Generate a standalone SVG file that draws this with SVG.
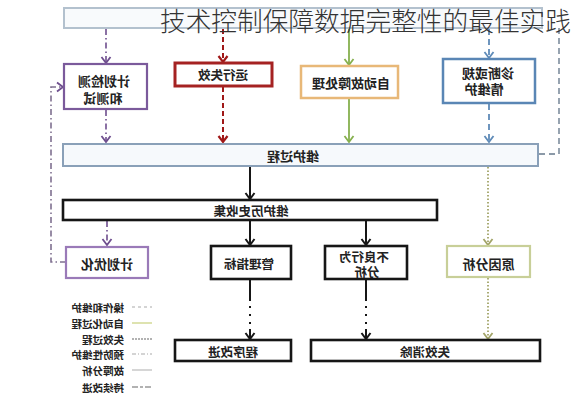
<svg xmlns="http://www.w3.org/2000/svg" width="573" height="400" viewBox="0 0 573 400">
<style>
.lbl{font-family:"Noto Sans CJK SC","Noto Sans",sans-serif;font-weight:700;fill:#222;text-anchor:middle;dominant-baseline:central}
.leg{font-family:"Noto Sans CJK SC","Noto Sans",sans-serif;font-weight:700;fill:#222;font-size:10.5px;dominant-baseline:central}
.title{font-family:"Noto Sans CJK SC","Noto Sans",sans-serif;font-weight:300;fill:#333;font-size:25.7px}
.bk{fill:#fff;stroke:#161616;stroke-width:2.6}
.c{fill:none}
</style>
<defs>
<marker id="aP" markerUnits="userSpaceOnUse" markerWidth="12" markerHeight="12" viewBox="-8 -6 10 12" refX="0" refY="0" orient="auto"><path d="M-6,-4.5 L0,0 L-6,4.5" fill="none" stroke="#6e4e8e" stroke-width="1.8"/></marker>
<marker id="aR" markerUnits="userSpaceOnUse" markerWidth="12" markerHeight="12" viewBox="-8 -6 10 12" refX="0" refY="0" orient="auto"><path d="M-6,-4.5 L0,0 L-6,4.5" fill="none" stroke="#a01818" stroke-width="2.2"/></marker>
<marker id="aG" markerUnits="userSpaceOnUse" markerWidth="12" markerHeight="12" viewBox="-8 -6 10 12" refX="0" refY="0" orient="auto"><path d="M-6,-4.5 L0,0 L-6,4.5" fill="none" stroke="#86b04e" stroke-width="1.8"/></marker>
<marker id="aB" markerUnits="userSpaceOnUse" markerWidth="12" markerHeight="12" viewBox="-8 -6 10 12" refX="0" refY="0" orient="auto"><path d="M-6,-4.5 L0,0 L-6,4.5" fill="none" stroke="#5f8bb8" stroke-width="1.8"/></marker>
<marker id="aK" markerUnits="userSpaceOnUse" markerWidth="12" markerHeight="12" viewBox="-8 -6 10 12" refX="0" refY="0" orient="auto"><path d="M-6,-4.5 L0,0 L-6,4.5" fill="none" stroke="#161616" stroke-width="2"/></marker>
<marker id="aO" markerUnits="userSpaceOnUse" markerWidth="12" markerHeight="12" viewBox="-8 -6 10 12" refX="0" refY="0" orient="auto"><path d="M-6,-4.5 L0,0 L-6,4.5" fill="none" stroke="#a2a468" stroke-width="1.8"/></marker>
</defs>
<rect width="573" height="400" fill="#fff"/>

<g id="connectors">
<path class="c" d="M106,29 V63" stroke="#6e4e8e" stroke-width="1.6" stroke-dasharray="6 3 1.5 3" marker-end="url(#aP)"/>
<path class="c" d="M106,110 V142" stroke="#6e4e8e" stroke-width="1.6" stroke-dasharray="6 3 1.5 3" marker-end="url(#aP)"/>
<path class="c" d="M223,29 V62" stroke="#a01818" stroke-width="2" stroke-dasharray="5 3" marker-end="url(#aR)"/>
<path class="c" d="M223,87 V142" stroke="#a01818" stroke-width="2" stroke-dasharray="5 3" marker-end="url(#aR)"/>
<path class="c" d="M349,29 V65" stroke="#86b04e" stroke-width="1.8" marker-end="url(#aG)"/>
<path class="c" d="M349,99 V142" stroke="#86b04e" stroke-width="1.8" marker-end="url(#aG)"/>
<path class="c" d="M489,29 V58" stroke="#5f8bb8" stroke-width="1.8" stroke-dasharray="6 4" marker-end="url(#aB)"/>
<path class="c" d="M489,104 V142" stroke="#5f8bb8" stroke-width="1.8" stroke-dasharray="6 4" marker-end="url(#aB)"/>
<path class="c" d="M539,154 H559 V28" stroke="#8c9aa8" stroke-width="1.8" stroke-dasharray="6 4"/>
<path class="c" d="M66,262 H51 V87 H63" stroke="#7f7090" stroke-width="1.6" stroke-dasharray="6 3 1.5 3" marker-end="url(#aP)"/>
<path class="c" d="M250,167 V199" stroke="#161616" stroke-width="2" marker-end="url(#aK)"/>
<path class="c" d="M107,221 V245" stroke="#6e4e8e" stroke-width="1.6" stroke-dasharray="6 3 1.5 3" marker-end="url(#aP)"/>
<path class="c" d="M250,221 V245" stroke="#161616" stroke-width="2" marker-end="url(#aK)"/>
<path class="c" d="M366,221 V245" stroke="#161616" stroke-width="2" marker-end="url(#aK)"/>
<path class="c" d="M488,167 V245" stroke="#a2a468" stroke-width="1.8" stroke-dasharray="1.5 2" marker-end="url(#aO)"/>
<path class="c" d="M250,280 V339" stroke="#161616" stroke-width="2" stroke-dasharray="21 5 2 6 2 6 2 5 40" marker-end="url(#aK)"/>
<path class="c" d="M366,280 V339" stroke="#161616" stroke-width="2" stroke-dasharray="21 5 2 6 2 6 2 5 40" marker-end="url(#aK)"/>
<path class="c" d="M488,278 V339" stroke="#a2a468" stroke-width="1.8" stroke-dasharray="1.5 2" marker-end="url(#aO)"/>
</g>

<g id="top-bar"><rect x="64" y="8" width="478" height="20" fill="#f8fafc" stroke="#b3c1ce" stroke-width="2"/></g>
<g id="title"><text class="title" x="160" y="31">技术控制保障数据完整性的最佳实践</text></g>

<g id="n-plan-test">
<rect x="64" y="64" width="83" height="45" fill="#fff" stroke="#7b5a9b" stroke-width="2.2"/>
<text class="lbl" font-size="13" x="104" y="80" transform="matrix(-1 0 0 1 208 0)">计划检测</text>
<text class="lbl" font-size="13" x="103" y="97" transform="matrix(-1 0 0 1 206 0)">和测试</text>
</g>
<g id="n-run-fail">
<rect x="175" y="63" width="97" height="23" fill="#fff" stroke="#a52222" stroke-width="3"/>
<text class="lbl" font-size="12.5" x="223" y="74.5" transform="matrix(-1 0 0 1 446 0)">运行失效</text>
</g>
<g id="n-auto">
<rect x="301" y="66" width="97" height="32" fill="#fff" stroke="#e8b878" stroke-width="2.5"/>
<text class="lbl" font-size="13" x="351" y="82" transform="matrix(-1 0 0 1 702 0)">自动故障处理</text>
</g>
<g id="n-diag">
<rect x="443" y="59" width="92" height="44" fill="#fff" stroke="#5a86b5" stroke-width="2.5"/>
<text class="lbl" font-size="13" x="488" y="72" transform="matrix(-1 0 0 1 976 0)">诊断或规</text>
<text class="lbl" font-size="13" x="484" y="88" transform="matrix(-1 0 0 1 968 0)">情维护</text>
</g>
<g id="n-process">
<rect x="63" y="144" width="475" height="22" fill="#f6f9fc" stroke="#8aa0b8" stroke-width="2"/>
<text class="lbl" font-size="13" x="293" y="155" transform="matrix(-1 0 0 1 586 0)">维护过程</text>
</g>
<g id="n-history">
<rect x="63" y="200" width="374" height="20" class="bk"/>
<text class="lbl" font-size="12.5" x="251" y="210" transform="matrix(-1 0 0 1 502 0)">维护历史收集</text>
</g>
<g id="n-plan-opt">
<rect x="66" y="247" width="82" height="31" fill="#fff" stroke="#9a7ab8" stroke-width="2.2"/>
<text class="lbl" font-size="13" x="107" y="263" transform="matrix(-1 0 0 1 214 0)">计划优化</text>
</g>
<g id="n-metrics">
<rect x="211" y="246" width="80" height="33" class="bk"/>
<text class="lbl" font-size="12.5" x="249" y="263" transform="matrix(-1 0 0 1 498 0)">管理指标</text>
</g>
<g id="n-bad">
<rect x="325" y="246" width="82" height="33" class="bk"/>
<text class="lbl" font-size="12.5" x="364" y="256" transform="matrix(-1 0 0 1 728 0)">不良行为</text>
<text class="lbl" font-size="12.5" x="367" y="271" transform="matrix(-1 0 0 1 734 0)">分析</text>
</g>
<g id="n-cause">
<rect x="447" y="246" width="83" height="31" fill="#fff" stroke="#c8cf98" stroke-width="2.2"/>
<text class="lbl" font-size="13" x="488.5" y="263" transform="matrix(-1 0 0 1 977 0)">原因分析</text>
</g>
<g id="n-proc-improve">
<rect x="175" y="340" width="116" height="21" class="bk"/>
<text class="lbl" font-size="12.5" x="233" y="351" transform="matrix(-1 0 0 1 466 0)">程序改进</text>
</g>
<g id="n-fail-elim">
<rect x="311" y="340" width="229" height="21" class="bk"/>
<text class="lbl" font-size="12.5" x="425" y="351" transform="matrix(-1 0 0 1 850 0)">失效消除</text>
</g>

<g id="legend">
<text class="leg" x="124" y="307" transform="matrix(-1 0 0 1 248 0)">操作和维护</text>
<text class="leg" x="124" y="323" transform="matrix(-1 0 0 1 248 0)">自动化过程</text>
<text class="leg" x="124" y="339" transform="matrix(-1 0 0 1 248 0)">失效过程</text>
<text class="leg" x="124" y="354" transform="matrix(-1 0 0 1 248 0)">预防性维护</text>
<text class="leg" x="124" y="370" transform="matrix(-1 0 0 1 248 0)">故障分析</text>
<text class="leg" x="124" y="387" transform="matrix(-1 0 0 1 248 0)">持续改进</text>
<path d="M132,307 H152" stroke="#aaa" stroke-width="1.2" stroke-dasharray="3 3"/>
<path d="M132,323 H152" stroke="#d6dc9c" stroke-width="1.6"/>
<path d="M132,339 H152" stroke="#999" stroke-width="1.4" stroke-dasharray="2 1"/>
<path d="M132,354 H152" stroke="#aaa" stroke-width="1.2" stroke-dasharray="4 2 1 2"/>
<path d="M132,370 H152" stroke="#bbb" stroke-width="1.2"/>
<path d="M132,387 H152" stroke="#999" stroke-width="1.4" stroke-dasharray="6 2 3 2"/>
</g>
</svg>
